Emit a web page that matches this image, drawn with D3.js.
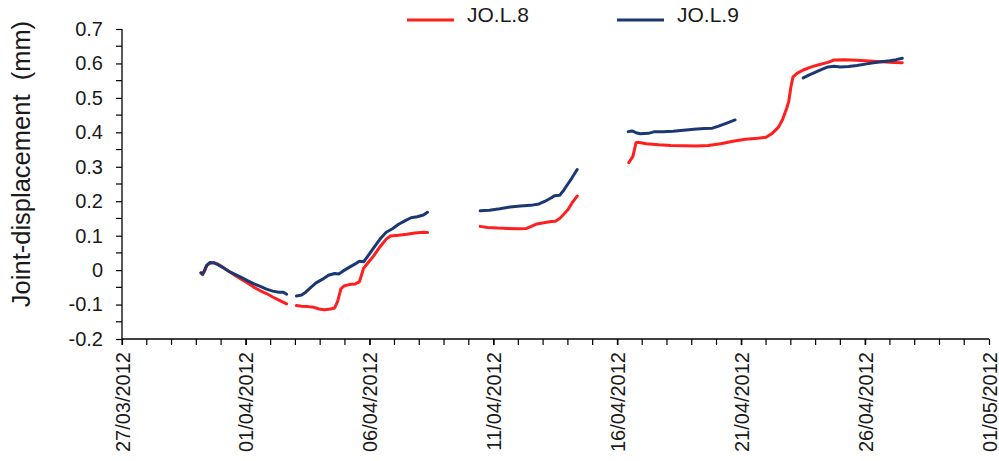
<!DOCTYPE html>
<html>
<head>
<meta charset="utf-8">
<script src="https://cdn.jsdelivr.net/npm/d3@7"></script>
<style>
  html, body { margin: 0; padding: 0; background: #ffffff; }
  svg { display: block; }
  text { font-family: "Liberation Sans", Arial, Helvetica, sans-serif; fill: #1a1a1a; }
</style>
</head>
<body>
<svg id="chart" width="999" height="461"></svg>
<script>
// Joint displacement readings (mm); a null value marks a gap between logging periods.
const jol8 = [
  ["30/03/2012 04:30", -0.008], ["30/03/2012 06:00", -0.013], ["30/03/2012 08:00", -0.003],
  ["30/03/2012 10:00", 0.012], ["30/03/2012 13:00", 0.020], ["30/03/2012 17:00", 0.022],
  ["30/03/2012 21:00", 0.017], ["31/03/2012 02:00", 0.008], ["31/03/2012 08:00", -0.005],
  ["31/03/2012 14:00", -0.016], ["31/03/2012 20:00", -0.027], ["01/04/2012 02:00", -0.038],
  ["01/04/2012 08:00", -0.050], ["01/04/2012 14:00", -0.060], ["01/04/2012 20:00", -0.068],
  ["02/04/2012 02:00", -0.078], ["02/04/2012 08:00", -0.087], ["02/04/2012 15:30", -0.098],
  ["02/04/2012 20:00", null],
  ["03/04/2012 01:00", -0.103], ["03/04/2012 06:00", -0.105], ["03/04/2012 12:00", -0.106],
  ["03/04/2012 18:00", -0.108], ["03/04/2012 23:00", -0.113], ["04/04/2012 04:00", -0.115],
  ["04/04/2012 10:00", -0.113], ["04/04/2012 14:00", -0.110], ["04/04/2012 17:00", -0.090],
  ["04/04/2012 20:00", -0.055], ["04/04/2012 23:00", -0.046], ["05/04/2012 04:00", -0.042],
  ["05/04/2012 10:00", -0.040], ["05/04/2012 14:00", -0.034], ["05/04/2012 16:00", -0.015],
  ["05/04/2012 18:00", 0.005], ["05/04/2012 22:00", 0.020], ["06/04/2012 04:00", 0.042],
  ["06/04/2012 10:00", 0.068], ["06/04/2012 16:00", 0.090], ["06/04/2012 20:00", 0.099],
  ["07/04/2012 04:00", 0.101], ["07/04/2012 12:00", 0.104], ["07/04/2012 20:00", 0.108],
  ["08/04/2012 04:00", 0.110], ["08/04/2012 08:00", 0.109],
  ["09/04/2012 12:00", null],
  ["10/04/2012 11:00", 0.127], ["10/04/2012 18:00", 0.124], ["11/04/2012 04:00", 0.122],
  ["11/04/2012 14:00", 0.121], ["12/04/2012 00:00", 0.120], ["12/04/2012 08:00", 0.121],
  ["12/04/2012 12:00", 0.126], ["12/04/2012 18:00", 0.134], ["13/04/2012 02:00", 0.138],
  ["13/04/2012 08:00", 0.141], ["13/04/2012 12:00", 0.142], ["13/04/2012 16:00", 0.150],
  ["13/04/2012 20:00", 0.162], ["14/04/2012 00:00", 0.175], ["14/04/2012 04:00", 0.195],
  ["14/04/2012 09:00", 0.215],
  ["15/04/2012 12:00", null],
  ["16/04/2012 11:00", 0.312], ["16/04/2012 15:00", 0.330], ["16/04/2012 18:00", 0.370],
  ["16/04/2012 20:00", 0.371], ["17/04/2012 04:00", 0.367], ["17/04/2012 16:00", 0.364],
  ["18/04/2012 04:00", 0.362], ["18/04/2012 16:00", 0.361], ["19/04/2012 04:00", 0.360],
  ["19/04/2012 16:00", 0.362], ["20/04/2012 04:00", 0.367], ["20/04/2012 16:00", 0.374],
  ["21/04/2012 04:00", 0.380], ["21/04/2012 16:00", 0.383], ["22/04/2012 00:00", 0.386],
  ["22/04/2012 06:00", 0.397], ["22/04/2012 12:00", 0.415], ["22/04/2012 16:00", 0.437],
  ["22/04/2012 20:00", 0.470], ["22/04/2012 22:00", 0.490], ["23/04/2012 00:00", 0.530],
  ["23/04/2012 02:00", 0.560], ["23/04/2012 06:00", 0.571], ["23/04/2012 12:00", 0.581],
  ["23/04/2012 20:00", 0.590], ["24/04/2012 04:00", 0.597], ["24/04/2012 12:00", 0.603],
  ["24/04/2012 18:00", 0.610], ["25/04/2012 04:00", 0.611], ["25/04/2012 16:00", 0.609],
  ["26/04/2012 04:00", 0.607], ["26/04/2012 16:00", 0.605], ["27/04/2012 04:00", 0.603],
  ["27/04/2012 12:00", 0.602]
];

const jol9 = [
  ["30/03/2012 04:30", -0.008], ["30/03/2012 06:00", -0.012], ["30/03/2012 08:00", 0.000],
  ["30/03/2012 10:00", 0.014], ["30/03/2012 13:00", 0.022], ["30/03/2012 17:00", 0.021],
  ["30/03/2012 21:00", 0.016], ["31/03/2012 02:00", 0.007], ["31/03/2012 08:00", -0.004],
  ["31/03/2012 14:00", -0.013], ["31/03/2012 20:00", -0.022], ["01/04/2012 02:00", -0.031],
  ["01/04/2012 08:00", -0.040], ["01/04/2012 14:00", -0.047], ["01/04/2012 20:00", -0.055],
  ["02/04/2012 02:00", -0.061], ["02/04/2012 08:00", -0.064], ["02/04/2012 12:00", -0.064],
  ["02/04/2012 15:30", -0.070],
  ["02/04/2012 20:00", null],
  ["03/04/2012 01:00", -0.075], ["03/04/2012 06:00", -0.072], ["03/04/2012 10:00", -0.064],
  ["03/04/2012 15:00", -0.050], ["03/04/2012 20:00", -0.037], ["04/04/2012 02:00", -0.027],
  ["04/04/2012 08:00", -0.015], ["04/04/2012 14:00", -0.010], ["04/04/2012 18:00", -0.011],
  ["04/04/2012 22:00", -0.003], ["05/04/2012 04:00", 0.008], ["05/04/2012 10:00", 0.018],
  ["05/04/2012 14:00", 0.026], ["05/04/2012 18:00", 0.024], ["05/04/2012 22:00", 0.040],
  ["06/04/2012 04:00", 0.065], ["06/04/2012 10:00", 0.090], ["06/04/2012 16:00", 0.110],
  ["06/04/2012 22:00", 0.120], ["07/04/2012 04:00", 0.133], ["07/04/2012 10:00", 0.143],
  ["07/04/2012 16:00", 0.152], ["07/04/2012 22:00", 0.155], ["08/04/2012 04:00", 0.160],
  ["08/04/2012 08:00", 0.168],
  ["09/04/2012 12:00", null],
  ["10/04/2012 11:00", 0.172], ["10/04/2012 20:00", 0.174], ["11/04/2012 06:00", 0.178],
  ["11/04/2012 16:00", 0.183], ["12/04/2012 02:00", 0.186], ["12/04/2012 12:00", 0.188],
  ["12/04/2012 20:00", 0.192], ["13/04/2012 02:00", 0.200], ["13/04/2012 08:00", 0.210],
  ["13/04/2012 11:00", 0.216], ["13/04/2012 16:00", 0.217], ["13/04/2012 20:00", 0.232],
  ["14/04/2012 00:00", 0.250], ["14/04/2012 04:00", 0.268], ["14/04/2012 09:00", 0.292],
  ["15/04/2012 12:00", null],
  ["16/04/2012 10:30", 0.402], ["16/04/2012 14:00", 0.404], ["16/04/2012 18:00", 0.399],
  ["16/04/2012 22:00", 0.396], ["17/04/2012 06:00", 0.397], ["17/04/2012 12:00", 0.402],
  ["17/04/2012 20:00", 0.402], ["18/04/2012 06:00", 0.403], ["18/04/2012 16:00", 0.406],
  ["19/04/2012 02:00", 0.409], ["19/04/2012 12:00", 0.411], ["19/04/2012 20:00", 0.412],
  ["20/04/2012 02:00", 0.418], ["20/04/2012 10:00", 0.427], ["20/04/2012 18:00", 0.436],
  ["22/04/2012 00:00", null],
  ["23/04/2012 12:00", 0.558], ["23/04/2012 18:00", 0.567], ["24/04/2012 00:00", 0.575],
  ["24/04/2012 06:00", 0.583], ["24/04/2012 12:00", 0.590], ["24/04/2012 18:00", 0.592],
  ["25/04/2012 00:00", 0.590], ["25/04/2012 08:00", 0.591], ["25/04/2012 16:00", 0.594],
  ["26/04/2012 00:00", 0.598], ["26/04/2012 08:00", 0.602], ["26/04/2012 16:00", 0.605],
  ["27/04/2012 00:00", 0.608], ["27/04/2012 06:00", 0.611], ["27/04/2012 12:00", 0.615]
];

const seriesNames = ["JO.L.8", "JO.L.9"];
const seriesColors = ["#fe1f1f", "#1c3872"];
const yTicks = [-0.2, -0.1, 0, 0.1, 0.2, 0.3, 0.4, 0.5, 0.6, 0.7];
const xTickDates = ["27/03/2012", "01/04/2012", "06/04/2012", "11/04/2012",
                    "16/04/2012", "21/04/2012", "26/04/2012", "01/05/2012"];
const yTitle = "Joint-displacement\u00a0\u00a0(mm)";

const parseTime = d3.timeParse("%d/%m/%Y %H:%M");
const parseDay = d3.timeParse("%d/%m/%Y");
const fmtDay = d3.timeFormat("%d/%m/%Y");

const svg = d3.select("#chart");

const xDomain = [parseDay(xTickDates[0]), parseDay(xTickDates[xTickDates.length - 1])];
const x = d3.scaleTime().domain(xDomain).range([122, 989]);
const y = d3.scaleLinear().domain([-0.2, 0.7]).range([339, 29]);

const toPoints = arr => arr.map(([t, v]) => ({ t: parseTime(t), v }));
const series = [toPoints(jol8), toPoints(jol9)];

// Data lines
const line = d3.line()
  .defined(d => d.v !== null)
  .x(d => x(d.t))
  .y(d => y(d.v))
  .curve(d3.curveLinear);

svg.append("g").selectAll("path")
  .data(series)
  .join("path")
  .attr("d", line)
  .attr("fill", "none")
  .attr("stroke", (d, i) => seriesColors[i])
  .attr("stroke-width", 3)
  .attr("stroke-linejoin", "round")
  .attr("stroke-linecap", "round");

// Y axis: labelled ticks every 0.1 plus minor ticks between
const fmtY = v => (Math.abs(v) < 1e-9 ? "0" : v.toFixed(1));
const yAxis = d3.axisLeft(y).tickValues(yTicks).tickFormat(fmtY).tickSize(6).tickPadding(13);
const gy = svg.append("g").attr("transform", "translate(122,0)").call(yAxis);
const yMinor = d3.range(-0.15, 0.7, 0.1);
gy.selectAll(".minor").data(yMinor).join("line")
  .attr("class", "minor")
  .attr("x1", -6).attr("x2", 0)
  .attr("y1", d => y(d)).attr("y2", d => y(d))
  .attr("stroke", "#000");

// X axis: labelled ticks every 5 days, minor ticks for each day
const xAxis = d3.axisBottom(x)
  .tickValues(xTickDates.map(parseDay))
  .tickFormat(fmtDay)
  .tickSize(6)
  .tickPadding(0);
const gx = svg.append("g").attr("transform", "translate(0,339)").call(xAxis);
const dayTicks = d3.timeDay.range(xDomain[0], xDomain[1]);
gx.selectAll(".minor").data(dayTicks).join("line")
  .attr("class", "minor")
  .attr("x1", d => x(d)).attr("x2", d => x(d))
  .attr("y1", 0).attr("y2", 6)
  .attr("stroke", "#000");

[gx, gy].forEach(g => {
  g.select(".domain").attr("stroke", "#000").attr("stroke-width", 1.3);
  g.selectAll(".tick line").attr("stroke", "#000").attr("stroke-width", 1.2);
  g.selectAll(".minor").attr("stroke-width", 1.2);
  g.selectAll("text")
    .attr("font-family", "'Liberation Sans', Arial, sans-serif")
    .attr("font-size", 20)
    .attr("fill", "#1a1a1a");
});
gy.select(".domain").attr("d", "M0,339V29");
gx.select(".domain").attr("d", "M122,0H989");

gx.selectAll(".tick text")
  .attr("text-anchor", "end")
  .attr("transform", "rotate(-90)")
  .attr("x", -13)
  .attr("y", 0)
  .attr("dy", "0.35em");

// Y axis title
svg.append("text")
  .attr("transform", "translate(30,164) rotate(-90)")
  .attr("text-anchor", "middle")
  .attr("font-size", 25.5)
  .text(yTitle);

// Legend
const legendX = [407, 617];
const legend = svg.append("g").selectAll("g")
  .data(seriesNames)
  .join("g")
  .attr("transform", (d, i) => `translate(${legendX[i]},20)`);
legend.append("line")
  .attr("x1", 0).attr("x2", 47)
  .attr("y1", 0).attr("y2", 0)
  .attr("stroke", (d, i) => seriesColors[i])
  .attr("stroke-width", 3);
legend.append("text")
  .attr("x", 60)
  .attr("y", 0)
  .attr("dy", "0.1em")
  .attr("font-size", 21)
  .text(d => d);
</script>
</body>
</html>
